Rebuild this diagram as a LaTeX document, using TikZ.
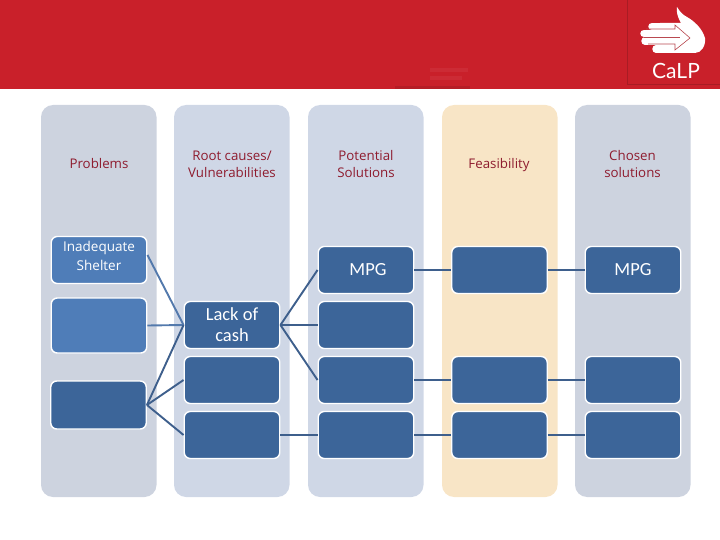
\documentclass[tikz,border=0pt]{standalone}
\usepackage{fontspec}
\setmainfont{Open Sans}
\newfontfamily\boxfont{Carlito}
\usepackage{xcolor}
\usetikzlibrary{positioning,calc}
\definecolor{calpred}{HTML}{C9202A}
\definecolor{calline}{HTML}{A81C24}
\definecolor{headtext}{HTML}{8E1B2E}
\definecolor{colblue}{HTML}{CFD7E6}
\definecolor{colgrey}{HTML}{CDD3DF}
\definecolor{colsand}{HTML}{F8E5C6}
\definecolor{boxlight}{HTML}{4F7DB8}
\definecolor{boxdark}{HTML}{3C6599}
\definecolor{linelight}{HTML}{5379AC}
\definecolor{linedark}{HTML}{3E5F8C}
\tikzset{
  head/.style={headtext,align=center,inner sep=0pt,font=\fontsize{13.3}{17}\selectfont},
  colbox/.style={draw=white,line width=1.4pt,rounded corners=6pt,minimum width=95.5pt,minimum height=47pt,inner sep=0pt,align=center,text=white},
  dark/.style={colbox,fill=boxdark,font=\boxfont\fontsize{18.5}{21}\selectfont},
  light/.style={colbox,fill=boxlight},
  link/.style={linedark,line width=1.9pt},
  linklight/.style={linelight,line width=1.9pt},
  finger/.style={white,line width=7.5pt,line cap=round}
}
\begin{document}
\begin{tikzpicture}[x=1pt,y=-1pt]
  \useasboundingbox (0,0) rectangle (720,540);
  % banner
  \fill[calpred] (0,0) rectangle (720,89);
  \fill[calpred!90!black] (395,86) rectangle (470,89);
  \fill[calpred!95!white] (430,68) rectangle (468,72);
  \fill[calpred!95!white] (430,76) rectangle (462,80);
  \draw[calline,line width=0.6pt] (627,0)--(627,84)--(720,84);
  % logo
  \fill[white] (677,7) .. controls (680,12) and (683,15) .. (687,17)
    .. controls (694,21) and (702,28) .. (705,38)
    .. controls (706,46) and (701,53) .. (695,53)--(660,53)--(660,23)--(681,23)
    .. controls (678,18) and (676,12) .. (677,7);
  \draw[finger] (652,26.5)--(675,26.5);
  \draw[finger] (644,33.5)--(675,33.5);
  \draw[finger] (645,41)--(675,41);
  \draw[finger] (656,49)--(675,49);
  \draw[calline!80,line width=0.6pt] (646,29)--(675,29)--(675,25)--(690,38)--(675,50)--(675,44)--(648,44);
  \draw[calline!80,line width=0.6pt] (644,37)--(680,37);
  \node (calp) at (676,71) {\textcolor{white}{\fontspec{Lato}\fontsize{21}{21}\selectfont CaLP}};
  % columns
  \foreach \x/\c in {41/colgrey,174/colblue,308/colblue,442/colsand,575/colgrey}
    \fill[\c,rounded corners=12pt] (\x,105) rectangle ++(115.5,392);
  % column titles
  \node[head] (tproblems) at (99,164) {Problems};
  \node[head] (troot) at (232,164.5) {Root causes/\\Vulnerabilities};
  \node[head] (tpot) at (366,164.5) {Potential\\Solutions};
  \node[head] (tfeas) at (499,165.5) {Feasibility};
  \node[head] (tchosen) at (632.5,164.5) {Chosen\\solutions};
  % problems
  \node[light] (prob1) at (99,260) {};
  \node[white,align=center,inner sep=0pt,font=\fontsize{13.5}{19}\selectfont] (prob1txt) at (99,255.5) {Inadequate\\Shelter};
  \node[light,minimum height=55pt] (prob2) at (99,325.5) {};
  \node[dark,minimum height=48pt] (prob3) at (98.5,405) {};
  % root causes
  \node[dark] (root1) at (232,325) {Lack of\\cash};
  \node[dark] (root2) at (232,380) {};
  \node[dark] (root3) at (232,435) {};
  % solutions, feasibility, chosen
  \foreach \name/\y/\txt in {1/270/{\hspace*{4pt}\raisebox{-2.5pt}{MPG}},2/325/,3/380/,4/435/}
    \node[dark] (sol\name) at (366,\y) {\txt};
  \foreach \name/\y in {1/270,3/380,4/435}
    \node[dark] (feas\name) at (499.5,\y) {};
  \foreach \name/\y/\txt in {1/270/{\raisebox{-2.5pt}{MPG}},3/380/,4/435/}
    \node[dark] (cho\name) at (633,\y) {\txt};
  % links
  \draw[linklight] (prob1.6)--(root1.west);
  \draw[linklight] (prob2.east)--(root1.west);
  \foreach \t in {root1,root2,root3} \draw[link] (prob3.east)--(\t.west);
  \foreach \t in {sol1,sol2,sol3} \draw[link] (root1.east)--(\t.west);
  \draw[link] (root3.east)--(sol4.west);
  \foreach \n in {1,3,4} {
    \draw[link] (sol\n.east)--(feas\n.west);
    \draw[link] (feas\n.east)--(cho\n.west);
  }
\end{tikzpicture}
\end{document}
